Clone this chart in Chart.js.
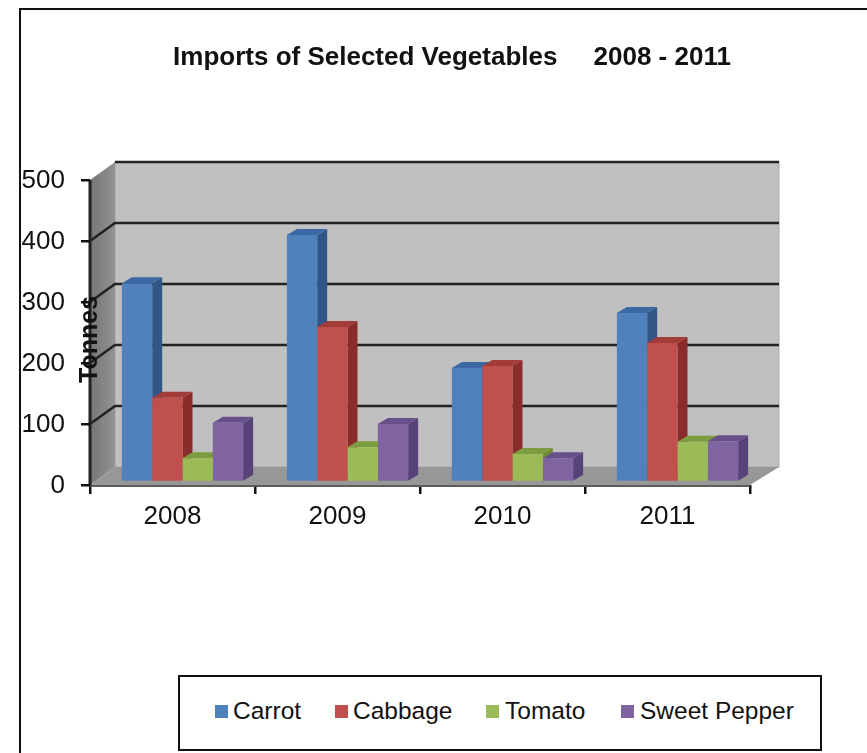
<!DOCTYPE html>
<html>
<head>
<meta charset="utf-8">
<title>Imports of Selected Vegetables</title>
<script src="https://cdn.jsdelivr.net/npm/chart.js@4/dist/chart.umd.min.js"></script>
<style>
  html, body { margin: 0; padding: 0; background: #fff; }
  #wrap { position: relative; width: 867px; height: 753px; overflow: hidden; }
  #frame { position: absolute; left: 19px; top: 8px; width: 900px; height: 800px; border: 2px solid #111; box-sizing: border-box; }
  canvas { position: absolute; left: 0; top: 0; }
  #legend {
    position: absolute; left: 178px; top: 675px; width: 644px; height: 76px;
    border: 2px solid #111; box-sizing: border-box; background: #fff;
    font: 24.5px "Liberation Sans", Arial, sans-serif; color: #111;
  }
  #legend span.sw { position: absolute; top: 28px; width: 13px; height: 13px; }
  #legend span.tx { position: absolute; top: 20px; line-height: 28px; white-space: pre; }
</style>
</head>
<body>
<div id="wrap">
  <div id="frame"></div>
  <canvas id="chart" width="867" height="753"></canvas>
  <div id="legend"></div>
</div>
<script>
// =====================
// DATA
// =====================
const years = ["2008", "2009", "2010", "2011"];
const carrot = [326, 405, 187, 277];
const cabbage = [138, 254, 190, 228];
const tomato = [39, 57, 46, 66];
const sweetPepper = [97, 95, 39, 67];
const yTicks = [0, 100, 200, 300, 400, 500];

const names = ["Carrot", "Cabbage", "Tomato", "Sweet Pepper"];
const frontColors = ["#4f81bd", "#c0504d", "#9bbb59", "#8064a2"];
const sideColors = ["#2f5687", "#8a2d2a", "#6e8a35", "#57427a"];
const topColors = ["#3a69a3", "#a33b38", "#7d9c3f", "#67508a"];

// =====================
// 3D LOOK
// =====================
const BAR_DX = 10, BAR_DY = -3;    // bars sit a little behind the front plane
const SIDE_DX = 10, SIDE_DY = -6;  // depth of each bar
const WALL_L = 25, WALL_R = 29, WALL_DY = -18;

function poly(ctx, pts, fill) {
  ctx.beginPath();
  pts.forEach((p, i) => i ? ctx.lineTo(p[0], p[1]) : ctx.moveTo(p[0], p[1]));
  ctx.closePath();
  ctx.fillStyle = fill;
  ctx.fill();
}

const box3d = {
  id: "box3d",
  afterLayout(chart) {
    // title is centred on its own span, not on the plot
    chart.titleBlock.left = 37;
    chart.titleBlock.right = 867;
  },
  beforeDatasetsDraw(chart) {
    const { ctx, chartArea: a, scales } = chart;
    const y = scales.y;
    const y0 = y.getPixelForValue(0);
    const yTop = y.getPixelForValue(500);
    const bl = a.left + WALL_L, br = a.right + WALL_R;

    ctx.save();
    // back wall
    poly(ctx, [[bl, yTop + WALL_DY], [br, yTop + WALL_DY], [br, y0 + WALL_DY], [bl, y0 + WALL_DY]], "#c0c0c0");
    ctx.strokeStyle = "#a8a8a8";
    ctx.lineWidth = 1;
    ctx.strokeRect(bl, yTop + WALL_DY, br - bl, y0 - yTop);
    // side wall
    const grad = ctx.createLinearGradient(a.left, 0, bl, 0);
    grad.addColorStop(0, "#757575");
    grad.addColorStop(1, "#939393");
    poly(ctx, [[a.left, yTop], [bl, yTop + WALL_DY], [bl, y0 + WALL_DY], [a.left, y0]], grad);
    // floor
    poly(ctx, [[a.left, y0], [a.right, y0], [br, y0 + WALL_DY], [bl, y0 + WALL_DY]], "#979797");
    ctx.strokeStyle = "#5c5c5c";
    ctx.lineWidth = 2;
    ctx.beginPath();
    ctx.moveTo(a.left, y0 + 1);
    ctx.lineTo(a.right, y0 + 1);
    ctx.stroke();

    // gridlines run along the side wall and the back wall
    ctx.strokeStyle = "#222";
    ctx.lineWidth = 2.5;
    yTicks.forEach(v => {
      if (v === 0) return;
      const p = y.getPixelForValue(v);
      ctx.beginPath();
      if (v === 500) {
        ctx.moveTo(bl, p + WALL_DY);
      } else {
        ctx.moveTo(a.left, p);
        ctx.lineTo(bl, p + WALL_DY);
      }
      ctx.lineTo(br, p + WALL_DY);
      ctx.stroke();
    });
    // front axis post
    ctx.lineWidth = 3;
    ctx.beginPath();
    ctx.moveTo(a.left, yTop);
    ctx.lineTo(a.left, y0 + 1);
    ctx.stroke();

    // bar tops and sides, left to right; fronts get drawn over them
    for (let c = 0; c < years.length; c++) {
      for (let d = 0; d < names.length; d++) {
        const bar = chart.getDatasetMeta(d).data[c];
        const x1 = bar.x - bar.width / 2 + BAR_DX, x2 = bar.x + bar.width / 2 + BAR_DX;
        const top = bar.y + BAR_DY, base = bar.base + BAR_DY;
        poly(ctx, [[x2, top], [x2 + SIDE_DX, top + SIDE_DY], [x2 + SIDE_DX, base + SIDE_DY], [x2, base]], sideColors[d]);
        poly(ctx, [[x1, top], [x1 + SIDE_DX, top + SIDE_DY], [x2 + SIDE_DX, top + SIDE_DY], [x2, top]], topColors[d]);
      }
    }
    ctx.restore();
  },
  beforeDatasetDraw(chart) {
    chart.ctx.save();
    chart.ctx.translate(BAR_DX, BAR_DY);
  },
  afterDatasetDraw(chart) {
    chart.ctx.restore();
  }
};

// =====================
// CHART
// =====================
const FONT = "'Liberation Sans', Arial, sans-serif";
const series = [carrot, cabbage, tomato, sweetPepper];

new Chart(document.getElementById("chart"), {
  type: "bar",
  data: {
    labels: years,
    datasets: names.map((name, i) => ({
      label: name,
      data: series[i],
      backgroundColor: frontColors[i],
      categoryPercentage: 0.735,
      barPercentage: 1
    }))
  },
  options: {
    responsive: false,
    animation: false,
    layout: { padding: { left: 0, right: 117, top: 0, bottom: 218 } },
    plugins: {
      legend: { display: false },
      tooltip: { enabled: false },
      title: {
        display: true,
        text: "Imports of Selected Vegetables     2008 - 2011",
        color: "#111",
        font: { family: FONT, size: 26, weight: "bold" },
        padding: { top: 42, bottom: 106.8 }
      }
    },
    scales: {
      x: {
        afterFit: s => { s.height = 50; },
        grid: { drawOnChartArea: false, color: "#111", lineWidth: 2.5, tickLength: 9 },
        border: { display: false },
        ticks: { color: "#111", font: { family: FONT, size: 26 }, padding: 7, maxRotation: 0 }
      },
      y: {
        min: 0,
        max: 500,
        afterFit: s => { s.width = 90; },
        afterBuildTicks: s => { s.ticks = yTicks.map(v => ({ value: v })); },
        // z above 0 so the axis title sits on top of the side wall
        grid: { drawOnChartArea: false, color: "#111", lineWidth: 2.5, tickLength: 9, z: 1 },
        border: { display: false },
        ticks: { color: "#111", font: { family: FONT, size: 26 }, padding: 16, labelOffset: 1 },
        title: {
          display: true,
          text: "Tonnes  ",
          color: "#111",
          font: { family: FONT, size: 25, weight: "bold" },
          padding: { top: 75, bottom: 0 }
        }
      }
    }
  },
  plugins: [box3d]
});

// =====================
// LEGEND
// =====================
const legendBox = [35, 155, 306, 441];
const legendText = [53, 173, 325, 460];
const legendDiv = document.getElementById("legend");
names.forEach((name, i) => {
  legendDiv.innerHTML += `<span class="sw" style="left:${legendBox[i]}px;background:${frontColors[i]}"></span>` +
    `<span class="tx" style="left:${legendText[i]}px">${name}</span>`;
});
</script>
</body>
</html>
